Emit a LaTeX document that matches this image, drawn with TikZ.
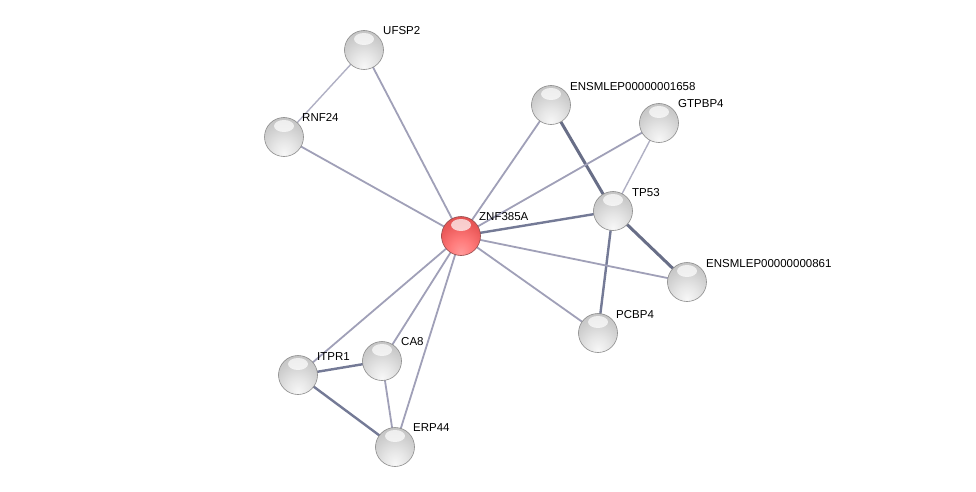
\documentclass[tikz,border=0pt]{standalone}
\usepackage{fontspec}
\setmainfont{Liberation Sans}
\definecolor{elight}{HTML}{B0B0C4}
\definecolor{emid}{HTML}{A0A0B8}
\definecolor{edark}{HTML}{747A96}
\pgfdeclareradialshading{graysphere}{\pgfpoint{0bp}{-22bp}}{%
  color(0bp)=(white!97!black); color(14bp)=(white!90!black); color(30bp)=(white!80!black);
  color(48bp)=(white!72!black); color(62bp)=(white!64!black); color(80bp)=(white!58!black)}
\pgfdeclareradialshading{redsphere}{\pgfpoint{0bp}{-22bp}}{%
  color(0bp)=(red!40!white); color(14bp)=(red!52!white); color(30bp)=(red!62!white!92!black);
  color(48bp)=(red!66!white!84!black); color(62bp)=(red!66!white!76!black); color(80bp)=(red!66!white!70!black)}
\begin{document}
\begin{tikzpicture}[x=1pt,y=-1pt,
  prot/.style={circle,minimum size=39pt,inner sep=0pt,shading=graysphere,draw=black!45,line width=0.6pt},
  protred/.style={circle,minimum size=39pt,inner sep=0pt,shading=redsphere,draw=red!40!black!70,line width=0.6pt},
  gloss/.style={white,opacity=0.7},
  lab/.style={anchor=south west,inner sep=0pt,font=\fontsize{11.5}{12}\selectfont},
  e1/.style={draw=emid,line width=1.8pt},
  e0/.style={draw=elight,line width=1.4pt},
  e2/.style={draw=edark,line width=2.4pt},
  e3/.style={draw=edark!90!black,line width=3pt}]
\useasboundingbox (0,0) rectangle (976,492);
\fill[white] (0,0) rectangle (976,492);
% nodes as coordinates for edges
\coordinate (ZNF) at (461,236);
\coordinate (UFSP2) at (364,50);
\coordinate (RNF24) at (284,137);
\coordinate (E1658) at (551,105);
\coordinate (GTPBP4) at (659,123);
\coordinate (TP53) at (613,211);
\coordinate (E0861) at (687,282);
\coordinate (PCBP4) at (598,333);
\coordinate (CA8) at (382,361);
\coordinate (ITPR1) at (298,375);
\coordinate (ERP44) at (395,447);
% edges
\draw[e0] (UFSP2) -- (RNF24);
\draw[e1] (UFSP2) -- (ZNF);
\draw[e1] (RNF24) -- (ZNF);
\draw[e1] (E1658) -- (ZNF);
\draw[e3] (E1658) -- (TP53);
\draw[e1] (GTPBP4) -- (ZNF);
\draw[e0] (GTPBP4) -- (TP53);
\draw[e2] (TP53) -- (ZNF);
\draw[e3] (TP53) -- (E0861);
\draw[e2] (TP53) -- (PCBP4);
\draw[e1] (ZNF) -- (E0861);
\draw[e1] (ZNF) -- (PCBP4);
\draw[e1] (ZNF) -- (ITPR1);
\draw[e1] (ZNF) -- (CA8);
\draw[e1] (ZNF) -- (ERP44);
\draw[e2] (ITPR1) -- (CA8);
\draw[e2] (ITPR1) -- (ERP44);
\draw[e1] (CA8) -- (ERP44);
% balls
\node[protred] (nZNF) at (ZNF) {};
\foreach \n in {UFSP2,RNF24,E1658,GTPBP4,TP53,E0861,PCBP4,CA8,ITPR1,ERP44}
  \node[prot] (n\n) at (\n) {};
% glossy highlights
\foreach \n in {ZNF,UFSP2,RNF24,E1658,GTPBP4,TP53,E0861,PCBP4,CA8,ITPR1,ERP44}
  \fill[gloss] ([yshift=11pt]\n) ellipse (10pt and 6pt);
% labels
\node[lab] (lZNF) at (479,221) {ZNF385A};
\node[lab] (lUFSP2) at (383,35) {UFSP2};
\node[lab] (lRNF24) at (302,122) {RNF24};
\node[lab] (lE1658) at (570,91) {ENSMLEP00000001658};
\node[lab] (lGTPBP4) at (678,108) {GTPBP4};
\node[lab] (lTP53) at (632,197) {TP53};
\node[lab] (lE0861) at (706,268) {ENSMLEP00000000861};
\node[lab] (lPCBP4) at (616,319) {PCBP4};
\node[lab] (lCA8) at (401,346) {CA8};
\node[lab] (lITPR1) at (317,361) {ITPR1};
\node[lab] (lERP44) at (413,432) {ERP44};
\end{tikzpicture}
\end{document}
